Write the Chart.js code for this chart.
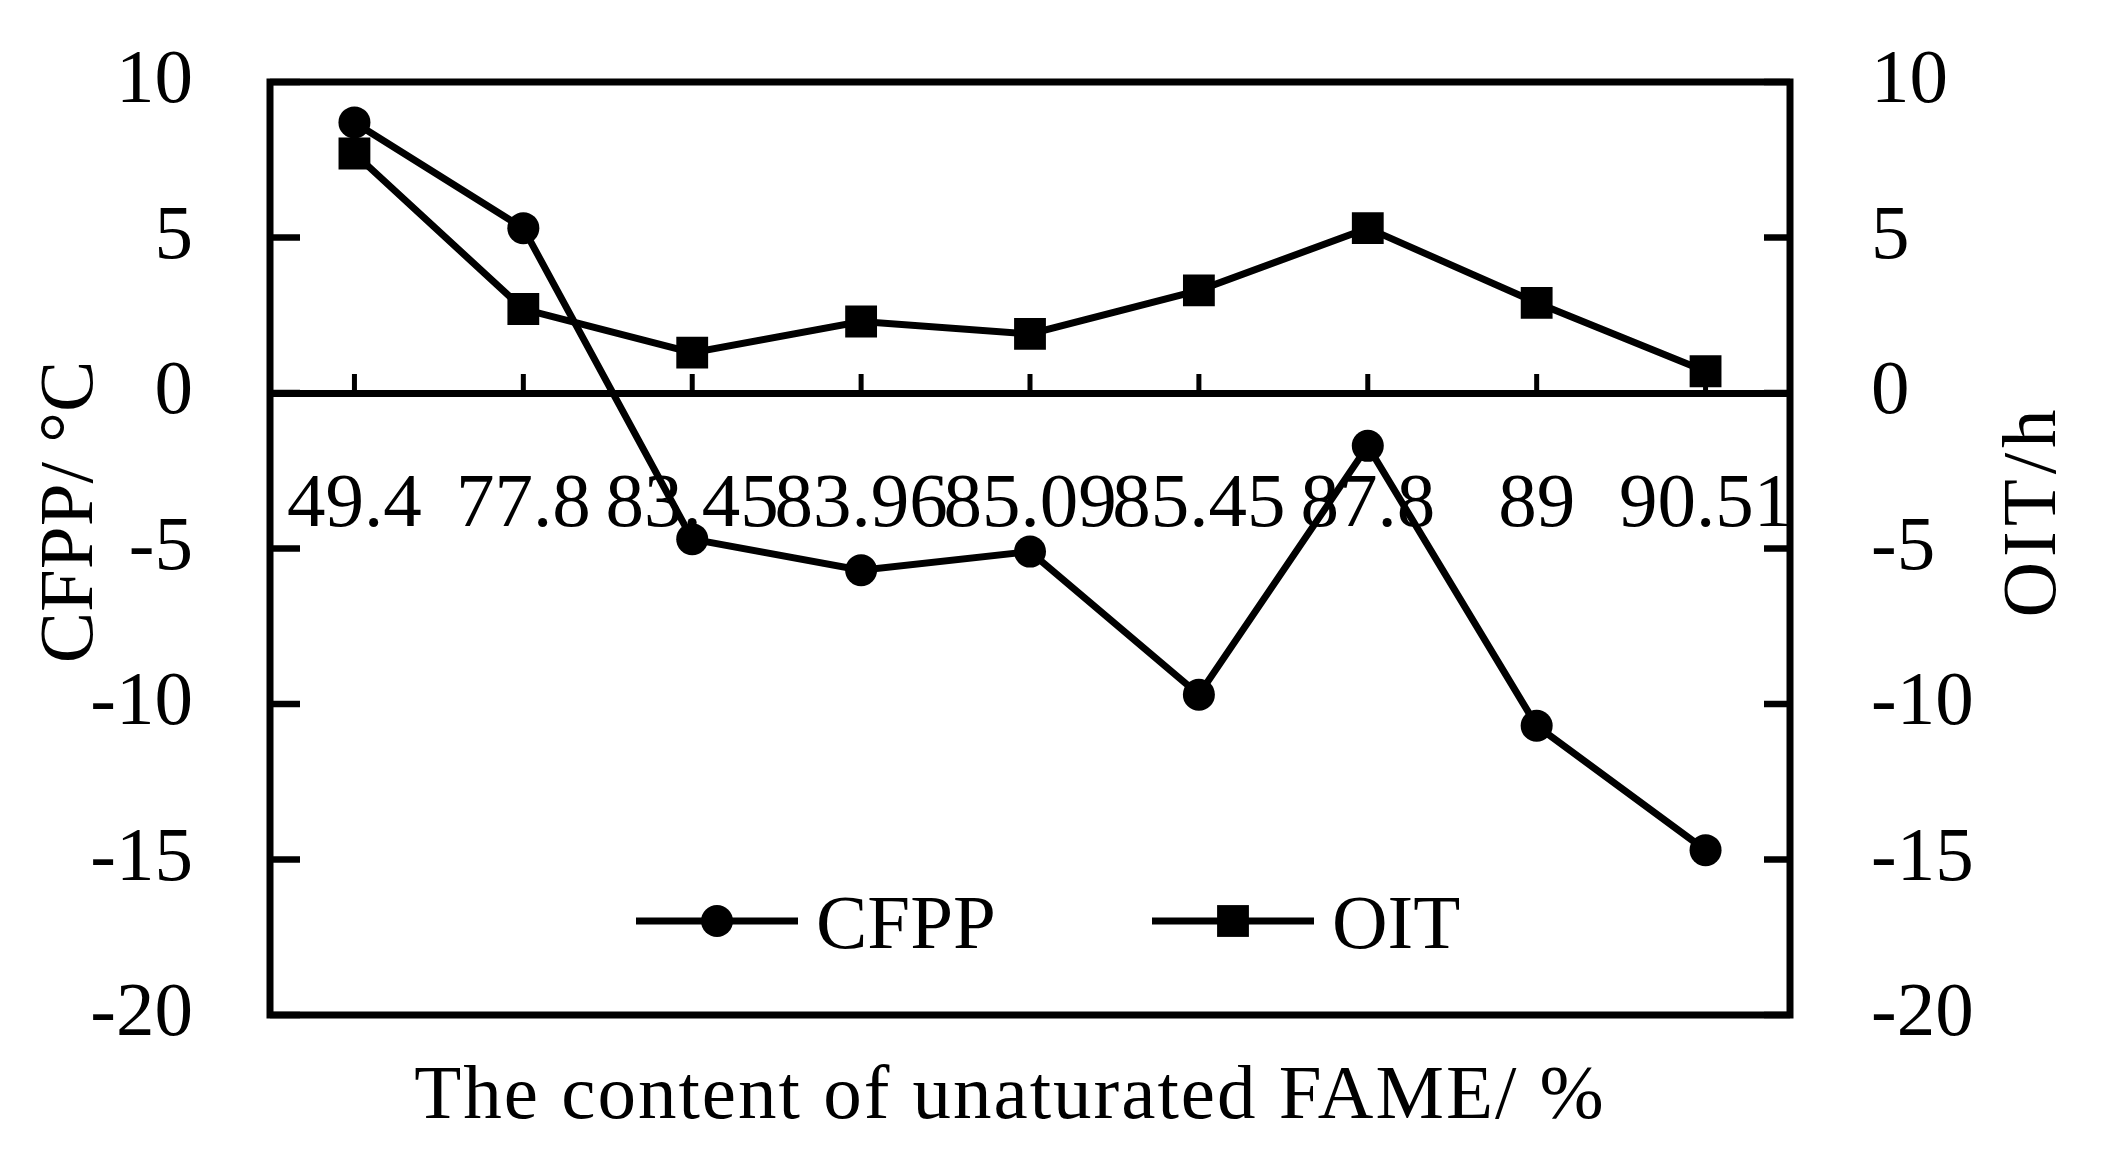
<!DOCTYPE html>
<html>
<head>
<meta charset="utf-8">
<script src="https://cdn.jsdelivr.net/npm/chart.js@4.4.1/dist/chart.umd.min.js"></script>
<style>
    html, body { margin: 0; padding: 0; background: #fff; }
    #contenedor { width: 2114px; height: 1175px; }
</style>
</head>
<body>
<div id="contenedor"><canvas id="graficoLineas" width="2114" height="1175"></canvas></div>
<script>
/** Datos */
const categorias = ["49.4", "77.8", "83.45", "83.96", "85.09", "85.45", "87.8", "89", "90.51"];
const valoresCFPP = [8.7, 5.3, -4.7, -5.7, -5.1, -9.7, -1.7, -10.7, -14.7];
const valoresOIT = [7.7, 2.7, 1.3, 2.3, 1.9, 3.3, 5.3, 2.9, 0.7];
const ejeMin = -20;
const ejeMax = 10;
const ejePaso = 5;

const tituloX = "The content of unaturated FAME/ %";
const tituloIzq = "CFPP/ °C";
const tituloDer = "OIT/h";

const fuente = '"Liberation Serif", "Times New Roman", serif';
const tamFuente = 77;

/** Marco, ticks hacia adentro, titulos y leyenda */
const marcoPlugin = {
    id: 'marco',
    beforeDatasetsDraw(chart) {
        const { ctx, chartArea: a, scales } = chart;
        ctx.save();
        ctx.strokeStyle = '#000';
        ctx.lineWidth = 7;
        ctx.strokeRect(a.left, a.top, a.right - a.left, a.bottom - a.top);

        // ticks de los ejes y, hacia el interior
        ctx.lineWidth = 6.5;
        scales.y.ticks.forEach((t, i) => {
            const py = scales.y.getPixelForTick(i);
            ctx.beginPath(); ctx.moveTo(a.left, py); ctx.lineTo(a.left + 30, py); ctx.stroke();
        });
        scales.y1.ticks.forEach((t, i) => {
            const py = scales.y1.getPixelForTick(i);
            ctx.beginPath(); ctx.moveTo(a.right, py); ctx.lineTo(a.right - 26, py); ctx.stroke();
        });

        // ticks del eje x, hacia arriba desde el cero
        const y0 = scales.y.getPixelForValue(0);
        ctx.lineWidth = 5;
        scales.x.ticks.forEach((t, i) => {
            const px = scales.x.getPixelForTick(i);
            ctx.beginPath(); ctx.moveTo(px, y0); ctx.lineTo(px, y0 - 19); ctx.stroke();
        });
        ctx.restore();
    },
    afterDraw(chart) {
        const { ctx, chartArea: a } = chart;
        ctx.save();
        ctx.fillStyle = '#000';
        ctx.font = tamFuente + 'px ' + fuente;
        ctx.textBaseline = 'alphabetic';
        ctx.textAlign = 'center';

        // titulo eje x
        ctx.letterSpacing = '2px';
        ctx.fillText(tituloX, 1010, 1118);
        ctx.letterSpacing = '0px';

        // titulos ejes y
        ctx.save();
        ctx.translate(92, 512);
        ctx.rotate(-Math.PI / 2);
        ctx.fillText(tituloIzq, 0, 0);
        ctx.restore();

        ctx.save();
        ctx.translate(2055, 511);
        ctx.rotate(-Math.PI / 2);
        ctx.letterSpacing = '5px';
        ctx.fillText(tituloDer, 0, 0);
        ctx.letterSpacing = '0px';
        ctx.restore();

        // leyenda dentro del area
        const posLeyenda = [636, 1152];
        const yLeyenda = a.bottom - 94;
        ctx.textAlign = 'left';
        chart.data.datasets.forEach((ds, i) => {
            const x0 = posLeyenda[i];
            const largo = 162;
            ctx.strokeStyle = '#000';
            ctx.lineWidth = 7;
            ctx.beginPath(); ctx.moveTo(x0, yLeyenda); ctx.lineTo(x0 + largo, yLeyenda); ctx.stroke();
            const opts = { pointStyle: ds.pointStyle, radius: ds.pointRadius, borderWidth: 0, rotation: 0 };
            ctx.fillStyle = '#000';
            if (Chart.helpers && Chart.helpers.drawPoint) {
                Chart.helpers.drawPoint(ctx, opts, x0 + largo / 2, yLeyenda);
            }
            ctx.fillText(ds.label, x0 + largo + 18, yLeyenda + 27);
        });
        ctx.restore();
    }
};

function CrearGrafico(id) {
    const ctx = document.getElementById(id);
    const fontTicks = { family: fuente, size: tamFuente };

    new Chart(ctx, {
        type: 'line',
        data: {
            labels: categorias,
            datasets: [{
                label: 'CFPP',
                data: valoresCFPP,
                yAxisID: 'y',
                borderColor: '#000',
                backgroundColor: '#000',
                borderWidth: 7,
                tension: 0,
                pointStyle: 'circle',
                pointRadius: 16,
                pointBorderWidth: 0,
                pointBackgroundColor: '#000'
            }, {
                label: 'OIT',
                data: valoresOIT,
                yAxisID: 'y1',
                borderColor: '#000',
                backgroundColor: '#000',
                borderWidth: 7,
                tension: 0,
                pointStyle: 'rect',
                pointRadius: 22.5,
                pointBorderWidth: 0,
                pointBackgroundColor: '#000'
            }]
        },
        options: {
            responsive: false,
            animation: false,
            devicePixelRatio: 1,
            layout: { padding: { top: 82, bottom: 160, left: 0, right: 0 } },
            plugins: {
                legend: { display: false },
                tooltip: { enabled: false }
            },
            scales: {
                x: {
                    type: 'category',
                    position: { y: 0 },
                    offset: true,
                    grid: { display: false, drawTicks: false },
                    border: { display: true, color: '#000', width: 7 },
                    ticks: {
                        color: '#000', font: fontTicks, padding: 67,
                        maxRotation: 0, minRotation: 0, autoSkip: false
                    }
                },
                y: {
                    position: 'left',
                    min: ejeMin, max: ejeMax,
                    ticks: { stepSize: ejePaso, color: '#000', font: fontTicks, padding: 77 },
                    grid: { display: false, drawTicks: false },
                    border: { display: false },
                    afterFit(s) { s.width = 270; s.paddingTop = 40; s.paddingBottom = 40; }
                },
                y1: {
                    position: 'right',
                    min: ejeMin, max: ejeMax,
                    ticks: { stepSize: ejePaso, color: '#000', font: fontTicks, padding: 81 },
                    grid: { display: false, drawTicks: false },
                    border: { display: false },
                    afterFit(s) { s.width = 324; s.paddingTop = 40; s.paddingBottom = 40; }
                }
            }
        },
        plugins: [marcoPlugin]
    });
}

CrearGrafico("graficoLineas");
</script>
</body>
</html>
